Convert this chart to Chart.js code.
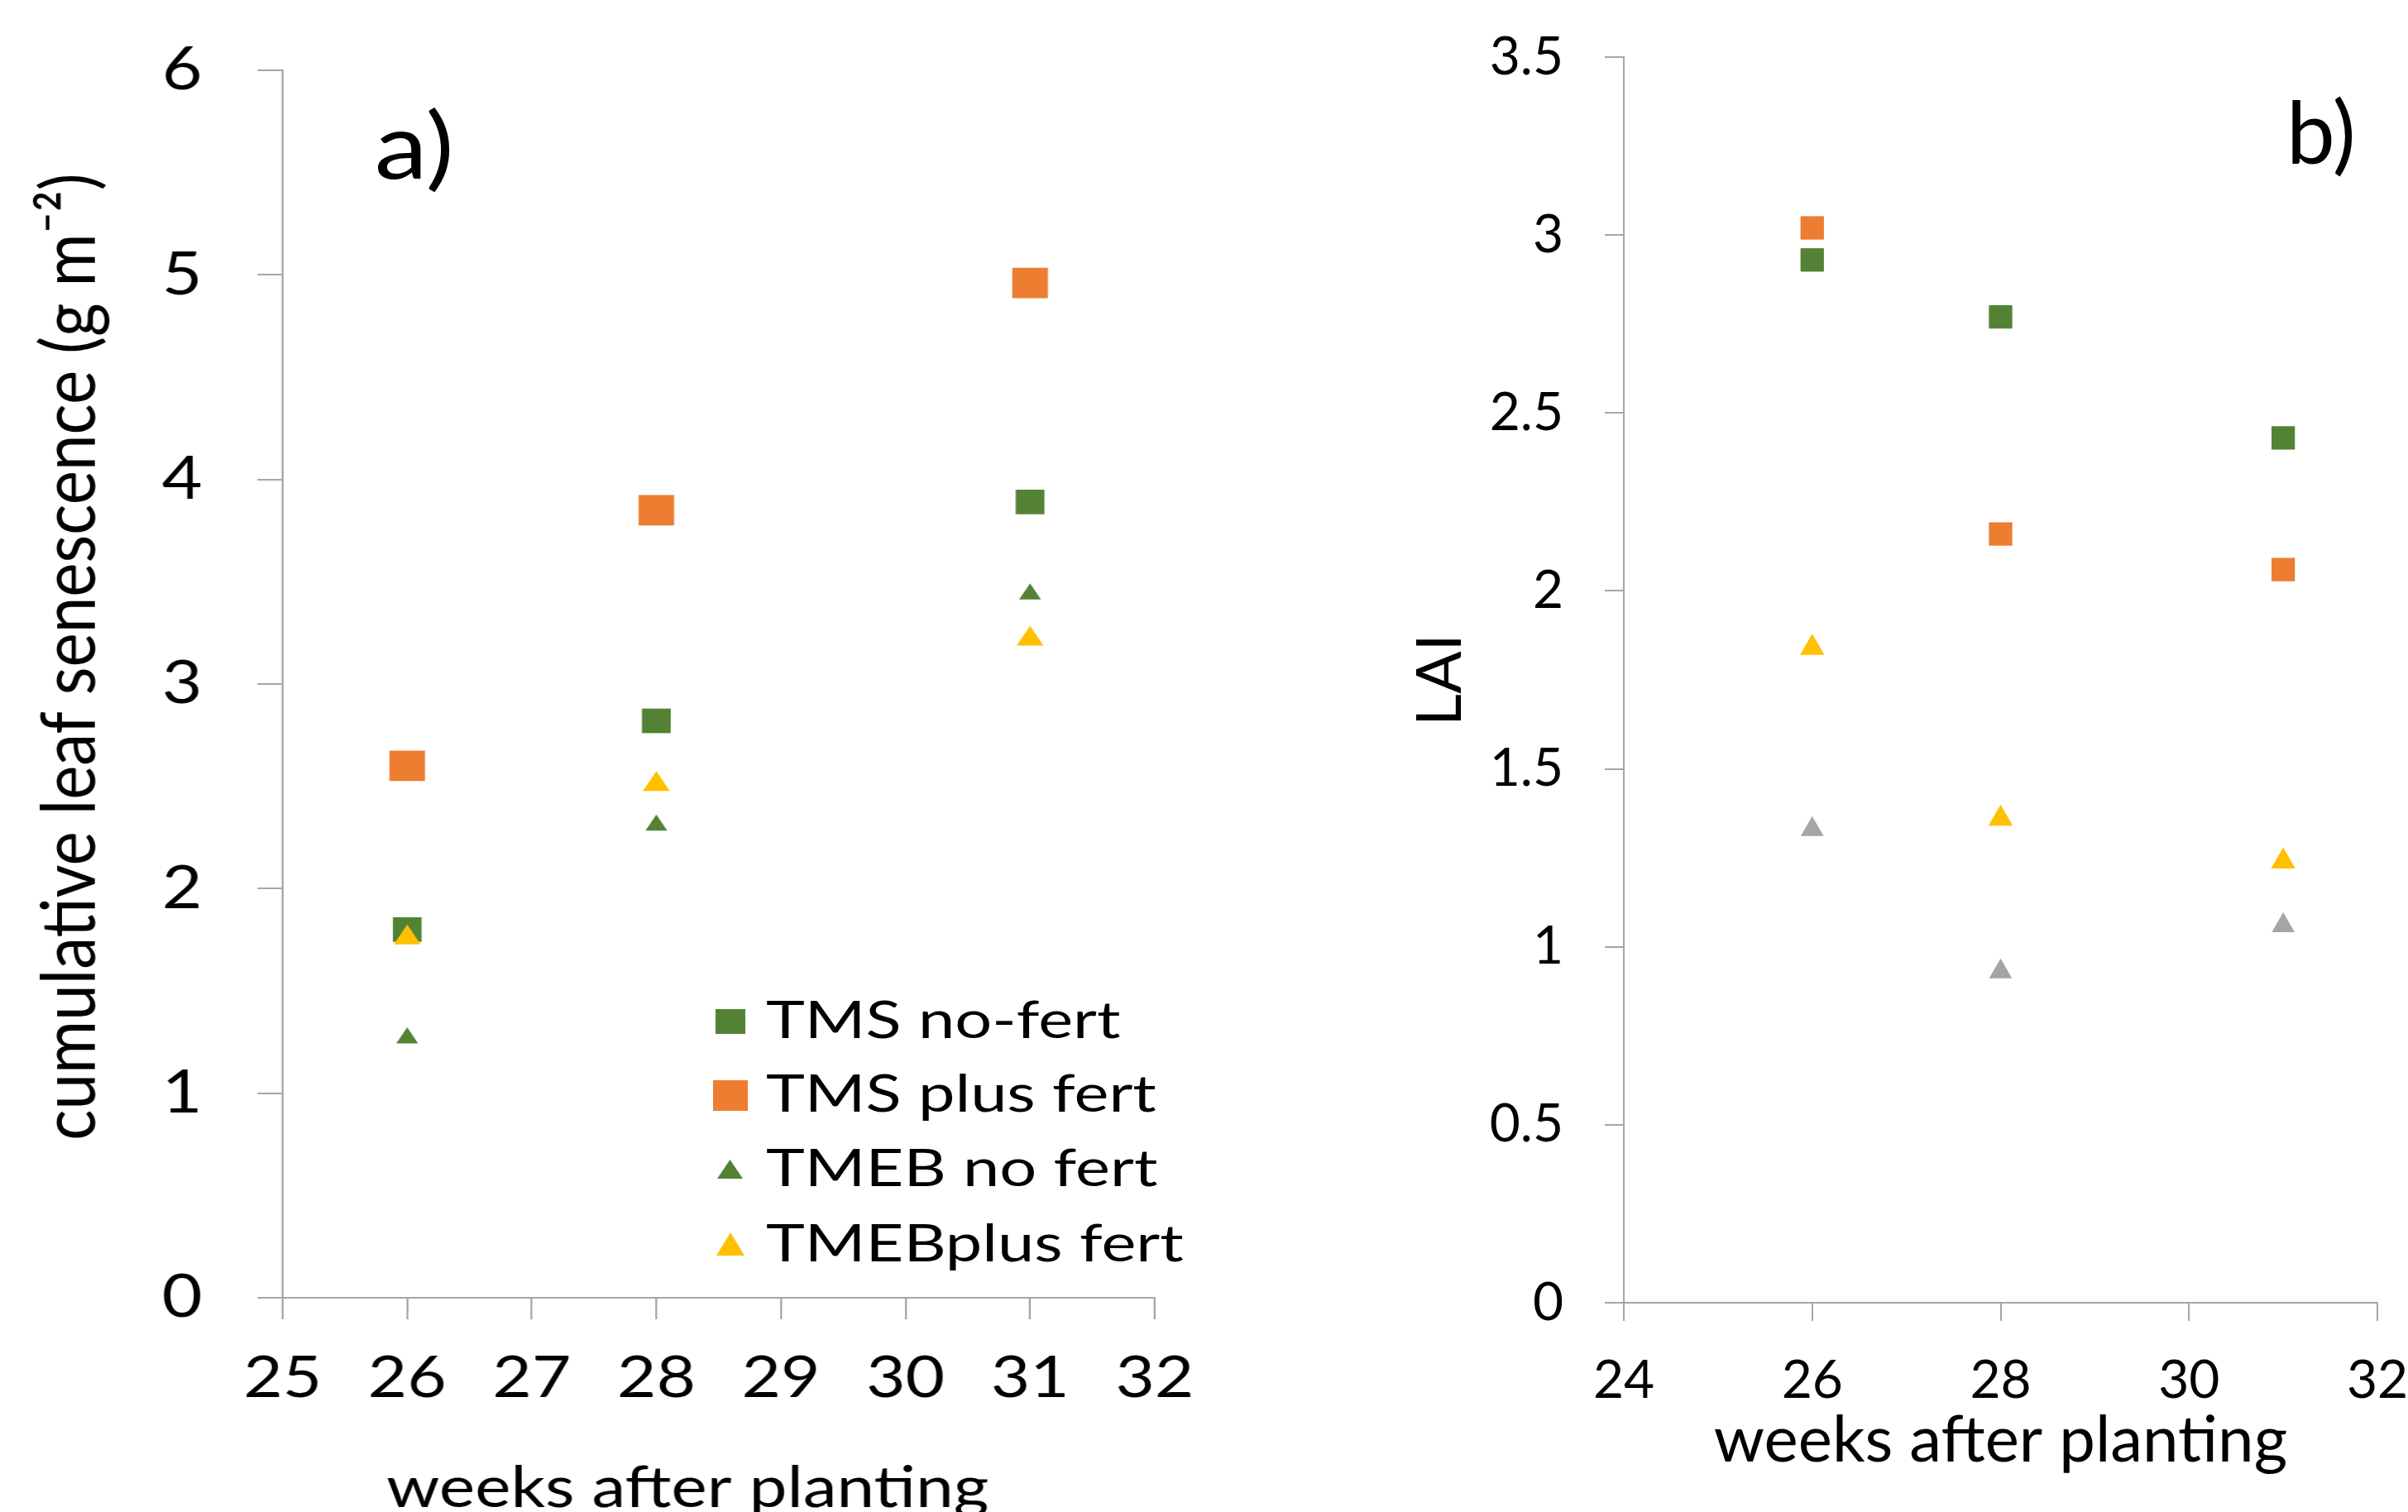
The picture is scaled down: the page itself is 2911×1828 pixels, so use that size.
<!DOCTYPE html>
<html>
<head>
<meta charset="utf-8">
<script src="https://cdn.jsdelivr.net/npm/chart.js@4.4.1/dist/chart.umd.min.js"></script>
<style>
html, body { margin: 0; padding: 0; background: #fff; }
body { width: 2911px; height: 1828px; overflow: hidden; position: relative; font-family: Lato, sans-serif; }
#pa { position: absolute; left: 0; top: 0; width: 1330px; height: 1880px; transform: scaleX(1.17); transform-origin: 0 0; }
#pb { position: absolute; left: 1480px; top: 0; width: 1500px; height: 1880px; }
canvas { position: absolute; left: 0; top: 0; }
.lbl { position: absolute; line-height: 1; color: #000; white-space: nowrap; font-family: Lato, sans-serif; }
.leg { position: absolute; left: 926px; line-height: 1; font-size: 62px; color: #000; white-space: nowrap; transform: scaleX(1.28); transform-origin: 0 0; }
.mk { position: absolute; }
</style>
</head>
<body>
<div id="pa">
  <canvas id="c1" width="1330" height="1880"></canvas>
  <div class="lbl" style="left:387px; top:118px; font-size:110px;">a)</div>
</div>
<div id="pb">
  <canvas id="c2" width="1500" height="1880"></canvas>
</div>
<div class="lbl" style="left:2764px; top:105px; font-size:105px;">b)</div>

<svg class="mk" style="left:865px; top:1220px;" width="36" height="30"><rect width="36" height="30" fill="#548235"/></svg>
<svg class="mk" style="left:862px; top:1306px;" width="42" height="37"><rect width="42" height="37" fill="#ED7D31"/></svg>
<svg class="mk" style="left:867px; top:1402px;" width="31" height="23"><polygon points="15.5,0 31,23 0,23" fill="#548235"/></svg>
<svg class="mk" style="left:866px; top:1490px;" width="34" height="28"><polygon points="17,0 34,28 0,28" fill="#FFC000"/></svg>
<div class="leg" style="top:1200px;">TMS no-fert</div>
<div class="leg" style="top:1289px;">TMS plus fert</div>
<div class="leg" style="top:1379px;">TMEB no fert</div>
<div class="leg" style="top:1470px;">TMEBplus fert</div>

<script>
// weeks after planting
var weeks = [26, 28, 31];
var seriesNames = ['TMS no-fert', 'TMS plus fert', 'TMEB no fert', 'TMEBplus fert'];

// a) cumulative leaf senescence
var sen_tmsNo = [1.80, 2.82, 3.89];
var sen_tmsPlus = [2.60, 3.85, 4.96];
var sen_tmebNo = [1.27, 2.31, 3.44];
var sen_tmebPlus = [1.76, 2.51, 3.22];

// b) LAI
var lai_tmsNo = [2.93, 2.77, 2.43];
var lai_tmsPlus = [3.02, 2.16, 2.06];
var lai_tmebNo = [1.33, 0.93, 1.06];
var lai_tmebPlus = [1.84, 1.36, 1.24];

var xTicksA = [25, 26, 27, 28, 29, 30, 31, 32];
var yTicksA = [0, 1, 2, 3, 4, 5, 6];
var xTicksB = [24, 26, 28, 30, 32];
var yTicksB = [0, 0.5, 1, 1.5, 2, 2.5, 3, 3.5];

var green = '#548235', orange = '#ED7D31', yellow = '#FFC000', grey = '#A5A5A5';
var axisColor = '#a6a6a6';

function pts(vals) {
    return weeks.map((w, i) => ({x: w, y: vals[i]}));
}

// later series sit on top, as in the original
function ds(idx, vals, style, r, color) {
    return {
        label: seriesNames[idx],
        data: pts(vals),
        order: 3 - idx,
        pointStyle: style,
        pointRadius: r,
        pointHoverRadius: r,
        backgroundColor: color,
        borderColor: color,
        borderWidth: 0,
        showLine: false
    };
}

function axis(o) {
    var shift = o.shift || [0, 0];
    return {
        type: 'linear',
        min: o.ticks[0],
        max: o.ticks[o.ticks.length - 1],
        afterBuildTicks: (s) => { s.ticks = o.ticks.map((v) => ({value: v})); },
        afterFit: (s) => {
            o.fit(s);
            s.paddingTop = 0; s.paddingBottom = 0; s.paddingLeft = 0; s.paddingRight = 0;
            // nudge the axis title off-centre like the original
            if (!s._nudged) {
                var drawTitle = s.drawTitle;
                s.drawTitle = function() {
                    this.ctx.save();
                    this.ctx.translate(shift[0], shift[1]);
                    drawTitle.call(this);
                    this.ctx.restore();
                };
                s._nudged = true;
            }
        },
        border: {color: axisColor, width: 2},
        grid: {drawOnChartArea: false, drawTicks: true, tickLength: o.tl, color: axisColor, lineWidth: 2},
        ticks: {font: {family: 'Lato', size: o.fs}, color: '#000', padding: o.pad,
                callback: (v) => String(v)},
        title: {display: true, text: o.title, color: '#000',
                font: {family: 'Lato', size: o.tfs, lineHeight: 1.2}, padding: o.tpad}
    };
}

Chart.defaults.animation = false;

new Chart(document.getElementById('c1').getContext('2d'), {
    type: 'scatter',
    data: {
        datasets: [
            ds(0, sen_tmsNo, 'rect', 21, green),
            ds(1, sen_tmsPlus, 'rect', 26, orange),
            ds(2, sen_tmebNo, 'triangle', 13, green),
            ds(3, sen_tmebPlus, 'triangle', 16, yellow)
        ]
    },
    options: {
        responsive: false,
        events: [],
        layout: {padding: {left: 0, top: 85, right: 137, bottom: 0}},
        plugins: {legend: {display: false}, tooltip: {enabled: false}},
        scales: {
            x: axis({ticks: xTicksA, fit: (s) => { s.height = 1880 - 1569; }, tl: 26, fs: 70, pad: 29,
                      title: 'weeks after planting', tfs: 70, tpad: {top: 0, bottom: 39}, shift: [-32, 0]}),
            y: axis({ticks: yTicksA, fit: (s) => { s.width = 292; }, tl: 26, fs: 72, pad: 57,
                      title: 'cumulative leaf senescence (g m\u207B\u00B2)', tfs: 78, tpad: {top: 26, bottom: 0},
                      shift: [0, -33]})
        }
    }
});

new Chart(document.getElementById('c2').getContext('2d'), {
    type: 'scatter',
    data: {
        datasets: [
            ds(0, lai_tmsNo, 'rect', 20, green),
            ds(1, lai_tmsPlus, 'rect', 20, orange),
            ds(2, lai_tmebNo, 'triangle', 16, grey),
            ds(3, lai_tmebPlus, 'triangle', 17, yellow)
        ]
    },
    options: {
        responsive: false,
        events: [],
        layout: {padding: {left: 0, top: 69, right: 106, bottom: 0}},
        plugins: {legend: {display: false}, tooltip: {enabled: false}},
        scales: {
            x: axis({ticks: xTicksB, fit: (s) => { s.height = 1880 - 1575; }, tl: 22, fs: 64, pad: 34,
                      title: 'weeks after planting', tfs: 78, tpad: {top: 0, bottom: 91}}),
            y: axis({ticks: yTicksB, fit: (s) => { s.width = 483; }, tl: 23, fs: 64, pad: 50,
                      title: 'LAI', tfs: 76, tpad: {top: 216, bottom: 0}})
        }
    }
});
</script>
</body>
</html>
